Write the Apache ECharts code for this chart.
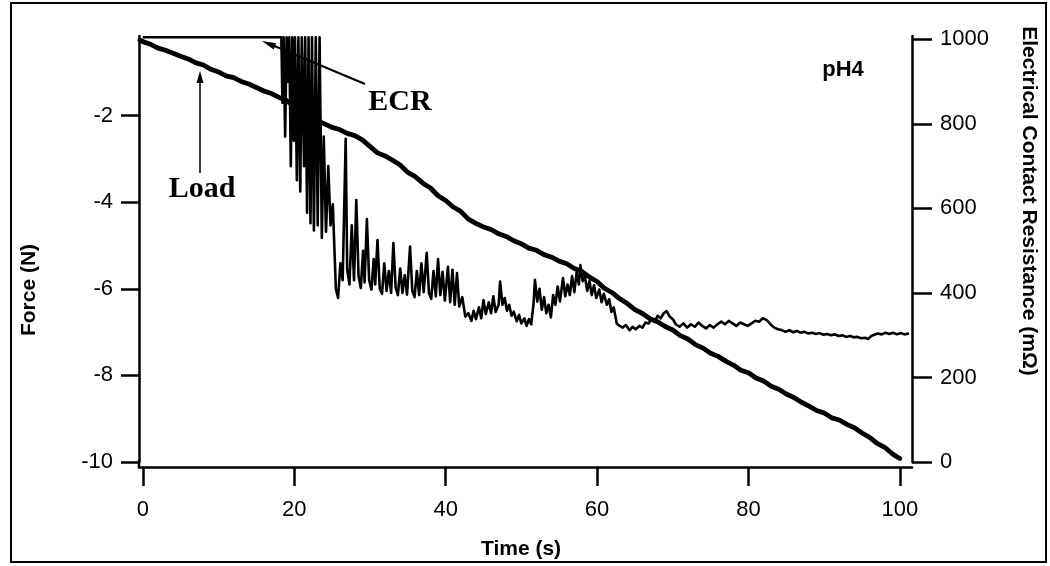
<!DOCTYPE html>
<html>
<head>
<meta charset="utf-8">
<title>Force and ECR vs time, pH4</title>
<script src="https://cdn.jsdelivr.net/npm/echarts@6/dist/echarts.min.js"></script>
<style>
  html, body { margin: 0; padding: 0; background: #fff; }
  #chart { width: 1050px; height: 566px; }
</style>
</head>
<body>
<div id="chart"></div>
<script>
// Tick values for the three axes
const timeTicks = [0, 20, 40, 60, 80, 100];
const forceTicks = [-10, -8, -6, -4, -2];
const ecrTicks = [0, 200, 400, 600, 800, 1000];

// Load (N) against time (s)
const loadData = [
  [-0.4, -0.25], [0, -0.29], [1, -0.35], [2, -0.44], [3, -0.49], [4, -0.56], [5, -0.63], [6, -0.69],
  [7, -0.78], [8, -0.83], [9, -0.93], [10, -0.99], [11, -1.08], [12, -1.12], [13, -1.21], [14, -1.27],
  [15, -1.35], [16, -1.43], [17, -1.49], [18, -1.58], [19, -1.65], [20, -1.80], [21, -1.93], [22, -2.01],
  [23, -2.11], [24, -2.19], [25, -2.27], [26, -2.32], [27, -2.41], [28, -2.46], [29, -2.56], [30, -2.71],
  [31, -2.86], [32, -2.93], [33, -3.03], [34, -3.14], [35, -3.31], [36, -3.41], [37, -3.56], [38, -3.67],
  [39, -3.85], [40, -3.96], [41, -4.11], [42, -4.21], [43, -4.39], [44, -4.49], [45, -4.57], [46, -4.63],
  [47, -4.73], [48, -4.79], [49, -4.89], [50, -4.96], [51, -5.06], [52, -5.11], [53, -5.21], [54, -5.27],
  [55, -5.36], [56, -5.42], [57, -5.53], [58, -5.60], [59, -5.73], [60, -5.83], [61, -5.99], [62, -6.09],
  [63, -6.23], [64, -6.34], [65, -6.48], [66, -6.57], [67, -6.69], [68, -6.76], [69, -6.87], [70, -6.95],
  [71, -7.08], [72, -7.16], [73, -7.29], [74, -7.37], [75, -7.49], [76, -7.56], [77, -7.67], [78, -7.76],
  [79, -7.88], [80, -7.94], [81, -8.06], [82, -8.13], [83, -8.25], [84, -8.32], [85, -8.43], [86, -8.51],
  [87, -8.62], [88, -8.71], [89, -8.81], [90, -8.87], [91, -8.98], [92, -9.03], [93, -9.13], [94, -9.21],
  [95, -9.33], [96, -9.43], [97, -9.57], [98, -9.66], [99, -9.81], [99.6, -9.88], [100, -9.92]
];

// Electrical contact resistance (mOhm) against time (s); 1005 = off scale
const ecrData = [
  [0, 1005], [18.3, 1005],
  [18.45, 850], [18.6, 1005], [18.8, 770], [19.0, 1005], [19.2, 900], [19.35, 1005], [19.55, 700], [19.75, 1005],
  [19.95, 760], [20.1, 1005], [20.35, 667], [20.55, 1005], [20.8, 640], [21.0, 1005], [21.3, 700], [21.45, 1005],
  [21.7, 590], [21.9, 1005], [22.15, 565], [22.35, 1005], [22.6, 548], [22.85, 1005], [23.1, 560], [23.35, 1005],
  [23.65, 530], [23.9, 770], [24.2, 545], [24.5, 700], [24.8, 560], [25.1, 610], [25.5, 410], [25.8, 388],
  [26.1, 470], [26.4, 430], [26.8, 765], [27.0, 455], [27.3, 420], [27.6, 560], [27.9, 430], [28.2, 620],
  [28.5, 440], [28.8, 412], [29.1, 500], [29.3, 425], [29.6, 575], [29.9, 430], [30.2, 408], [30.5, 480],
  [30.7, 420], [31.0, 525], [31.3, 410], [31.6, 398], [31.9, 470], [32.2, 405], [32.5, 452], [32.8, 400],
  [33.1, 518], [33.4, 412], [33.7, 395], [34.0, 458], [34.3, 400], [34.6, 442], [34.9, 396], [35.3, 510],
  [35.6, 405], [35.9, 390], [36.2, 452], [36.5, 395], [36.8, 470], [37.1, 402], [37.5, 495], [37.8, 400],
  [38.1, 386], [38.4, 452], [38.7, 392], [39.0, 480], [39.3, 395], [39.6, 450], [39.9, 382], [40.3, 462],
  [40.6, 378], [40.9, 455], [41.2, 372], [41.5, 447], [41.8, 368], [42.2, 390], [42.6, 344], [43.0, 352],
  [43.4, 334], [43.7, 358], [44.0, 338], [44.4, 366], [44.7, 340], [45.0, 383], [45.3, 350], [45.7, 378],
  [46.0, 352], [46.3, 392], [46.6, 355], [47.0, 372], [47.2, 427], [47.5, 372], [47.8, 388], [48.1, 358],
  [48.4, 372], [48.7, 346], [49.0, 356], [49.4, 333], [49.7, 348], [50.0, 328], [50.4, 340], [50.7, 322],
  [51.0, 338], [51.3, 326], [51.6, 372], [51.8, 431], [52.1, 380], [52.4, 410], [52.7, 360], [53.0, 390],
  [53.3, 352], [53.6, 372], [53.9, 342], [54.2, 395], [54.5, 372], [54.8, 415], [55.1, 380], [55.5, 435],
  [55.8, 392], [56.1, 420], [56.4, 395], [56.7, 440], [57.0, 402], [57.3, 448], [57.6, 420], [57.8, 466],
  [58.1, 428], [58.4, 440], [58.7, 405], [59.0, 428], [59.3, 395], [59.6, 418], [59.9, 388], [60.3, 408],
  [60.6, 378], [60.9, 398], [61.3, 372], [61.6, 385], [61.9, 355], [62.2, 366], [62.6, 328], [63.0, 322],
  [63.4, 318], [63.8, 324], [64.3, 312], [64.7, 320], [65.1, 314], [65.6, 322], [66.0, 318], [66.4, 330],
  [66.8, 328], [67.2, 338], [67.6, 332], [68.0, 346], [68.4, 340], [68.8, 352], [69.2, 357], [69.6, 344],
  [70.0, 338], [70.4, 326], [70.9, 320], [71.4, 328], [71.9, 318], [72.4, 326], [72.9, 320], [73.4, 330],
  [73.9, 322], [74.4, 316], [74.9, 324], [75.4, 318], [75.9, 326], [76.4, 332], [76.9, 326], [77.4, 334],
  [77.9, 328], [78.4, 322], [78.9, 330], [79.4, 326], [79.9, 322], [80.4, 328], [80.9, 334], [81.4, 332],
  [81.9, 340], [82.4, 336], [82.9, 326], [83.4, 318], [83.9, 314], [84.4, 312], [84.9, 308], [85.4, 312],
  [85.9, 307], [86.4, 310], [86.9, 306], [87.4, 308], [87.9, 304], [88.4, 306], [88.9, 303], [89.4, 305],
  [89.9, 301], [90.4, 303], [90.9, 300], [91.4, 302], [91.9, 298], [92.4, 300], [92.9, 296], [93.4, 298],
  [93.9, 295], [94.4, 296], [94.9, 293], [95.4, 294], [95.8, 291], [96.2, 298], [96.6, 301], [97.1, 304],
  [97.6, 302], [98.1, 306], [98.6, 303], [99.1, 306], [99.6, 302], [100.1, 305], [100.6, 302], [101.2, 304]
];

const SANS = '"Liberation Sans", Arial, sans-serif';
const SERIF = '"Liberation Serif", "Times New Roman", serif';
const INK = '#000';

const chart = echarts.init(document.getElementById('chart'), null, { renderer: 'canvas' });

const tickLabel = { color: INK, fontFamily: SANS, fontSize: 22, formatter: (v) => String(v) };

chart.setOption({
  animation: false,
  backgroundColor: '#fff',
  grid: { left: 139, right: 138, top: 36, bottom: 104, containLabel: false },
  xAxis: {
    type: 'value',
    min: -0.5,
    max: 101.6,
    offset: 5,
    axisLine: { show: true, onZero: false, lineStyle: { color: INK, width: 2.5 } },
    axisTick: { show: true, customValues: timeTicks, length: 19, lineStyle: { color: INK, width: 2.5 } },
    axisLabel: Object.assign({ customValues: timeTicks, margin: 32 }, tickLabel),
    splitLine: { show: false }
  },
  yAxis: [
    {
      type: 'value',
      position: 'left',
      min: -10,
      max: -0.16,
      axisLine: { show: true, onZero: false, lineStyle: { color: INK, width: 2.5 } },
      axisTick: { show: true, customValues: forceTicks, length: 18, lineStyle: { color: INK, width: 2.5 } },
      axisLabel: Object.assign({ customValues: forceTicks, margin: 26 }, tickLabel),
      splitLine: { show: false }
    },
    {
      type: 'value',
      position: 'right',
      min: 0,
      max: 1008,
      axisLine: { show: true, onZero: false, lineStyle: { color: INK, width: 2.5 } },
      axisTick: { show: true, customValues: ecrTicks, length: 20, lineStyle: { color: INK, width: 2.5 } },
      axisLabel: Object.assign({ customValues: ecrTicks, margin: 28 }, tickLabel),
      splitLine: { show: false }
    }
  ],
  series: [
    {
      name: 'ECR',
      type: 'line',
      yAxisIndex: 1,
      data: ecrData,
      showSymbol: false,
      clip: true,
      lineStyle: { color: INK, width: 2.6, join: 'round' },
      z: 2
    },
    {
      name: 'Load',
      type: 'line',
      yAxisIndex: 0,
      data: loadData,
      showSymbol: false,
      clip: true,
      lineStyle: { color: INK, width: 4.8, join: 'round', cap: 'round' },
      z: 3
    }
  ],
  graphic: [
    // outer frame
    { type: 'rect', silent: true, shape: { x: 11, y: 3, width: 1035, height: 559 },
      style: { fill: 'none', stroke: INK, lineWidth: 2 } },
    // lower end of the force axis down to the time axis
    { type: 'line', silent: true, shape: { x1: 139, y1: 460, x2: 139, y2: 468 },
      style: { stroke: INK, lineWidth: 2.5 } },
    // Load annotation arrow
    { type: 'line', silent: true, shape: { x1: 200, y1: 173, x2: 200, y2: 80 },
      style: { stroke: INK, lineWidth: 1.5 } },
    { type: 'polygon', silent: true, shape: { points: [[200, 71], [196.5, 83], [203.5, 83]] },
      style: { fill: INK } },
    // ECR annotation arrow
    { type: 'line', silent: true, shape: { x1: 365, y1: 84, x2: 272, y2: 45 },
      style: { stroke: INK, lineWidth: 2 } },
    { type: 'polygon', silent: true, shape: { points: [[262, 41], [273.6, 49.6], [276.2, 43.2]] },
      style: { fill: INK } },
    // series labels
    { type: 'text', silent: true, x: 400, y: 102,
      style: { text: 'ECR', fill: INK, font: 'bold 30px ' + SERIF, align: 'center', verticalAlign: 'middle' } },
    { type: 'text', silent: true, x: 202, y: 189,
      style: { text: 'Load', fill: INK, font: 'bold 30px ' + SERIF, align: 'center', verticalAlign: 'middle' } },
    { type: 'text', silent: true, x: 843, y: 70,
      style: { text: 'pH4', fill: INK, font: 'bold 22px ' + SANS, align: 'center', verticalAlign: 'middle' } },
    // axis titles
    { type: 'text', silent: true, x: 521, y: 549,
      style: { text: 'Time (s)', fill: INK, font: 'bold 21px ' + SANS, align: 'center', verticalAlign: 'middle' } },
    { type: 'text', silent: true, x: 29, y: 290, rotation: Math.PI / 2,
      style: { text: 'Force (N)', fill: INK, font: 'bold 21px ' + SANS, align: 'center', verticalAlign: 'middle' } },
    { type: 'text', silent: true, x: 1029, y: 201, rotation: -Math.PI / 2,
      style: { text: 'Electrical Contact Resistance (mΩ)', fill: INK, font: 'bold 21px ' + SANS, align: 'center', verticalAlign: 'middle' } }
  ]
});
</script>
</body>
</html>
